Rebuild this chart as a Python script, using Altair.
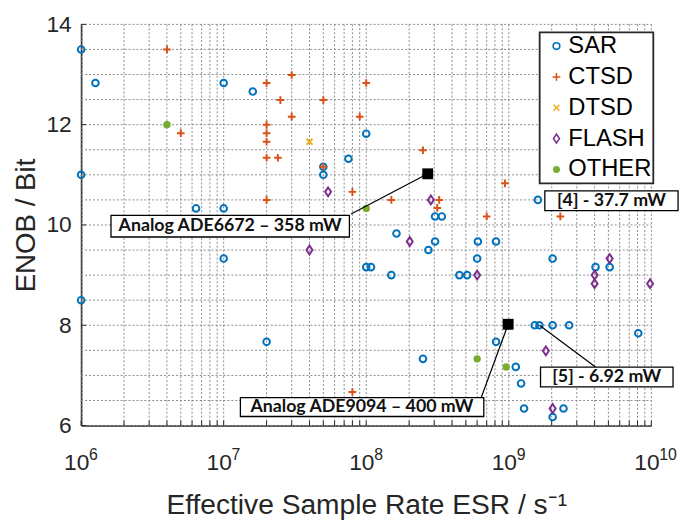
import altair as alt
import pandas as pd

# ---------------- data ----------------
categories = ["SAR", "CTSD", "DTSD", "FLASH", "OTHER"]
colors = ["#0072BD", "#D95319", "#EDB120", "#7E2F8E", "#77AC30"]

sar_x = [1e6, 1.26e6, 1e7, 1.6e7, 1e8, 7.5e7, 5e7, 5e7, 1e6, 6.4e6,
         1e7, 3.04e8, 3.39e8, 1.6e9, 1e7, 1.0e8, 1.08e8, 1e6, 2e7, 1.63e8,
         3.04e8, 2.73e8, 6.07e8, 8.14e8, 6e8, 1.5e8, 4.5e8, 5.1e8, 2.03e9, 4.06e9,
         5.1e9, 1.52e9, 1.64e9, 2.03e9, 2.65e9, 8.1e9, 8.14e8, 2.5e8, 1.12e9, 1.22e9,
         1.28e9, 2.42e9, 2.03e9]
sar_y = [13.5, 12.83, 12.83, 12.66, 11.82, 11.32, 11.16, 11.0, 11.0, 10.33,
         10.33, 10.17, 10.17, 10.5, 9.33, 9.16, 9.16, 8.5, 7.67, 9.83,
         9.67, 9.5, 9.67, 9.67, 9.33, 9.0, 9.0, 9.0, 9.33, 9.16,
         9.16, 8.0, 8.0, 8.0, 8.0, 7.84, 7.67, 7.33, 7.17, 6.84,
         6.34, 6.34, 6.17]

ctsd_x = [4e6, 5e6, 2e7, 2e7, 2e7, 2e7, 2e7, 2.4e7, 2.5e7, 3e7,
          3e7, 5e7, 5e7, 8e7, 9e7, 1e8, 2e7, 2.5e8, 1.5e8, 3.25e8,
          3.15e8, 9.4e8, 7e8, 2.3e9, 8e7]
ctsd_y = [13.5, 11.83, 12.83, 12.0, 11.83, 11.66, 11.34, 11.34, 12.49, 12.99,
          12.16, 12.49, 11.16, 10.66, 12.16, 12.83, 10.5, 11.49, 10.5, 10.5,
          10.34, 10.83, 10.17, 10.17, 6.67]

dtsd_x = [4e7]
dtsd_y = [11.66]

flash_x = [5.4e7, 2.84e8, 4e7, 2.02e8, 6e8, 5.1e9, 4e9, 4e9, 9.8e9, 1.82e9, 2.03e9]
flash_y = [10.66, 10.5, 9.5, 9.67, 9.0, 9.33, 9.0, 8.83, 8.83, 7.49, 6.34]

other_x = [4e6, 1e8, 6e8, 9.6e8]
other_y = [12.0, 10.33, 7.33, 7.17]

# highlighted designs (black squares)
hl_x = [2.7e8, 9.9e8]
hl_y = [11.02, 8.02]

# annotation labels: text, box corners, text anchor, leader line
ann_text = ["Analog ADE6672 \u2013 358 mW", "Analog ADE9094 \u2013 400 mW",
            "[5] - 6.92 mW", "[4] - 37.7 mW"]
ann_bx1 = [1.62e6, 1.31e7, 1.67e9, 1.79e9]
ann_bx2 = [7.62e7, 6.68e8, 1.42e10, 1.54e10]
ann_by1 = [10.19, 6.556, 7.166, 10.68]
ann_by2 = [9.76, 6.181, 6.772, 10.286]
ann_tx = [1.11e7, 9.33e7, 4.86e9, 5.25e9]
ann_ty = [9.975, 6.37, 6.97, 10.483]

line_x1 = [2.7e8, 9.9e8, 1.64e9]
line_y1 = [11.02, 8.02, 8.0]
line_x2 = [7.83e7, 6.4e8, 4.06e9]
line_y2 = [10.22, 6.556, 7.166]

# axis tick values
x_grid = [k * 10 ** n for n in range(6, 10) for k in range(1, 10)] + [10 ** 10]
decades = [10 ** n for n in range(6, 11)]
exponents = ["6", "7", "8", "9", "10"]
y_grid = [6 + 0.5 * i for i in range(17)]
y_major = [6, 8, 10, 12, 14]

# ---------------- build tables ----------------
rows = []
for cat, xs, ys in zip(categories, [sar_x, ctsd_x, dtsd_x, flash_x, other_x],
                       [sar_y, ctsd_y, dtsd_y, flash_y, other_y]):
    for xv, yv in zip(xs, ys):
        rows.append({"type": cat, "esr": xv, "enob": yv})
df = pd.DataFrame(rows)

hl_df = pd.DataFrame({"x": hl_x, "y": hl_y})
ann_df = pd.DataFrame({"t": ann_text, "x1": ann_bx1, "x2": ann_bx2, "y1": ann_by1,
                       "y2": ann_by2, "tx": ann_tx, "ty": ann_ty})
line_df = pd.DataFrame({"x1": line_x1, "y1": line_y1, "x2": line_x2, "y2": line_y2})
exp_df = pd.DataFrame({"v": decades, "e": exponents})
xg_df = pd.DataFrame({"v": x_grid})
yg_df = pd.DataFrame({"v": y_grid})
yt_df = pd.DataFrame({"v": y_major})

# ---------------- style ----------------
W, H = 577, 406
FONT = "Liberation Sans"
TXT = "#262626"
GRID = "#8a8a8a"

xscale = alt.Scale(type="log", domain=[1e6, 1e10], nice=False)
yscale = alt.Scale(domain=[6, 14], nice=False, zero=False)

shapes = ["circle", "M-1,0L1,0M0,-1L0,1", "M-1,-1L1,1M-1,1L1,-1",
          "M0,-1L0.68,0L0,1L-0.68,0Z", "circle"]
fills = ["transparent", "transparent", "transparent", "transparent", "#77AC30"]
sizes = [45, 60, 36, 80, 30]

x_axis_main = alt.Axis(
    values=decades, grid=False, ticks=False, tickSize=0,
    domain=True, domainColor=TXT, domainWidth=1.6,
    labelExpr="'10'",
    labelFont=FONT, labelFontSize=23, labelColor=TXT, labelOffset=-5,
    labelPadding=44, labelBaseline="alphabetic", labelFlush=False, labelOverlap=False,
    title="Effective Sample Rate ESR / s\u207b\u00b9", titleFont=FONT, titleFontSize=28.5,
    titleFontWeight="normal", titleColor=TXT, titleBaseline="alphabetic", titleY=88.5,
)
y_axis_main = alt.Axis(
    values=y_major, grid=False, ticks=False, tickSize=0,
    domain=True, domainColor=TXT, domainWidth=1.6,
    format="d",
    labelFont=FONT, labelFontSize=23, labelColor=TXT, labelPadding=10,
    labelFlush=False, labelOverlap=False,
    title="ENOB / Bit", titleFont=FONT, titleFontSize=28, titleFontWeight="normal",
    titleColor=TXT, titleBaseline="alphabetic", titleX=-46.7, titleY=203,
    titleAlign="center", titleAngle=270,
)

legend = alt.Legend(
    orient="none", legendX=464, legendY=8, title=None,
    labelFont=FONT, labelFontSize=24, labelColor="black",
    strokeColor=TXT, fillColor="white", padding=2,
    symbolOffset=3, labelOffset=0, rowPadding=7.2,
    symbolSize=20, symbolStrokeWidth=1.6,
)

# dotted grid drawn from the tick value lists
xgrid = alt.Chart(xg_df).mark_rule(color=GRID, strokeWidth=1, strokeDash=[2, 2]).encode(
    x=alt.X("v:Q", scale=xscale, axis=None),
    y=alt.value(0), y2=alt.value(H),
)
ygrid = alt.Chart(yg_df).mark_rule(color=GRID, strokeWidth=1, strokeDash=[2, 2]).encode(
    y=alt.Y("v:Q", scale=yscale, axis=None),
    x=alt.value(0), x2=alt.value(W),
)

points = alt.Chart(df).mark_point(strokeWidth=2, opacity=1).encode(
    x=alt.X("esr:Q", scale=xscale, axis=x_axis_main),
    y=alt.Y("enob:Q", scale=yscale, axis=y_axis_main),
    color=alt.Color("type:N", scale=alt.Scale(domain=categories, range=colors), legend=legend),
    shape=alt.Shape("type:N", scale=alt.Scale(domain=categories, range=shapes), legend=legend),
    fill=alt.Fill("type:N", scale=alt.Scale(domain=categories, range=fills), legend=legend),
    size=alt.Size("type:N", scale=alt.Scale(type="ordinal", domain=categories, range=sizes),
                  legend=None),
)

# inward ticks
xticks = alt.Chart(xg_df).mark_rule(color=TXT, strokeWidth=1).encode(
    x=alt.X("v:Q", scale=xscale, axis=None),
    y=alt.value(H - 5), y2=alt.value(H),
)
yticks = alt.Chart(yt_df).mark_rule(color=TXT, strokeWidth=1).encode(
    y=alt.Y("v:Q", scale=yscale, axis=None),
    x=alt.value(0), x2=alt.value(5),
)

exps = alt.Chart(exp_df).mark_text(
    align="left", baseline="alphabetic", dx=8, font=FONT, fontSize=16, color=TXT
).encode(
    x=alt.X("v:Q", scale=xscale, axis=None),
    y=alt.value(H + 34.5),
    text="e:N",
)

lines = alt.Chart(line_df).mark_rule(color="black", strokeWidth=1.2).encode(
    x=alt.X("x1:Q", scale=xscale, axis=None), x2="x2:Q",
    y=alt.Y("y1:Q", scale=yscale, axis=None), y2="y2:Q",
)

boxes = alt.Chart(ann_df).mark_rect(fill="white", stroke="black", strokeWidth=1.3).encode(
    x=alt.X("x1:Q", scale=xscale, axis=None), x2="x2:Q",
    y=alt.Y("y1:Q", scale=yscale, axis=None), y2="y2:Q",
)

labels = alt.Chart(ann_df).mark_text(
    font="Lato", fontWeight="bold", fontSize=18, color="#111111",
    align="center", baseline="middle"
).encode(
    x=alt.X("tx:Q", scale=xscale, axis=None),
    y=alt.Y("ty:Q", scale=yscale, axis=None),
    text="t:N",
)

squares = alt.Chart(hl_df).mark_square(size=121, color="black", opacity=1).encode(
    x=alt.X("x:Q", scale=xscale, axis=None),
    y=alt.Y("y:Q", scale=yscale, axis=None),
)

chart = alt.layer(
    xgrid, ygrid, points, xticks, yticks, exps, lines, boxes, labels, squares
).resolve_axis(x="independent", y="independent").properties(
    width=W, height=H,
    autosize=alt.AutoSizeParams(type="none"),
    padding={"left": 74, "top": 13.5, "right": 28, "bottom": 93},
    background="white",
).configure_view(stroke=None).configure_legend(strokeWidth=1.8)

chart.save("out.html", embed_options={"renderer": "svg", "actions": False})
